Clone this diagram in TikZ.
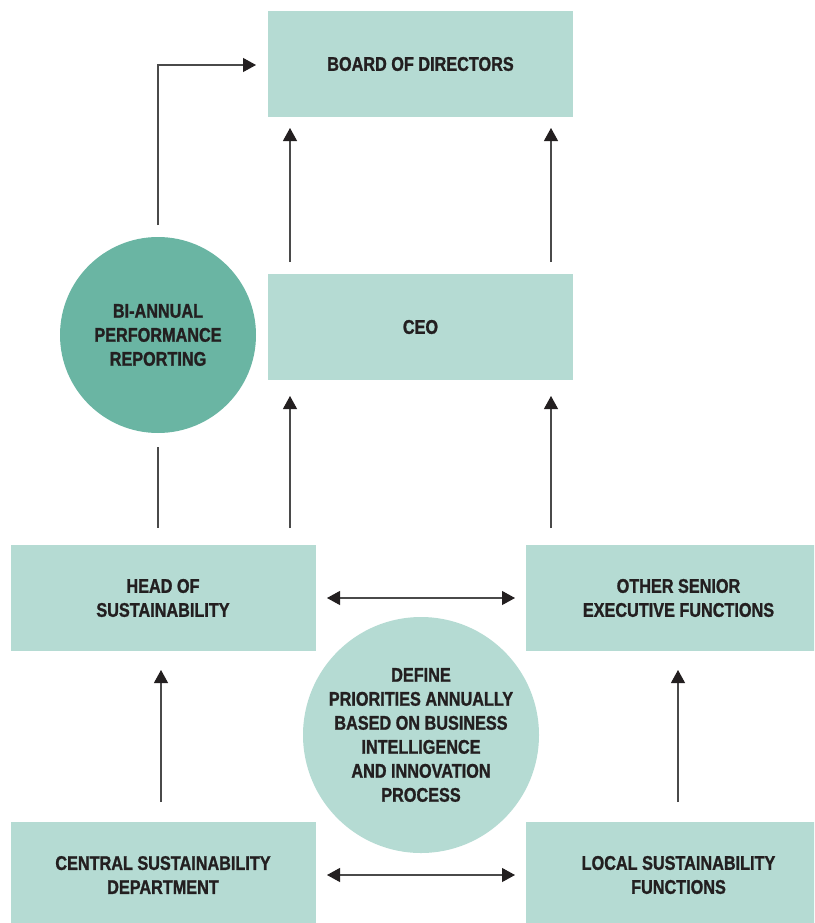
\documentclass[tikz,border=0pt]{standalone}
\usepackage{fontspec}
\setmainfont{Liberation Sans}[FakeStretch=0.82]
\newfontfamily\labelfont{Liberation Sans}[FakeStretch=0.82,BoldFeatures={FakeBold=1.2}]
\usetikzlibrary{arrows.meta}
\definecolor{boxc}{HTML}{B5DBD3}
\definecolor{darkc}{HTML}{6AB5A3}
\definecolor{txt}{HTML}{231F20}
\definecolor{linec}{HTML}{4A4A4A}
\tikzset{
  box/.style={fill=boxc, draw=none, minimum width=305pt, minimum height=106pt, inner sep=0pt,
    align=center, font=\labelfont\bfseries\fontsize{19.8}{24}\selectfont, text=txt},
  circ/.style={circle, draw=none, inner sep=0pt, align=center,
    font=\labelfont\bfseries\fontsize{19.8}{24}\selectfont, text=txt},
  conn/.style={draw=linec, line width=1.1pt},
  arr/.style={conn, -{Triangle[width=14pt,length=13pt,fill=txt,color=txt]}},
  darr/.style={conn, {Triangle[width=14pt,length=13pt,fill=txt,color=txt]}-{Triangle[width=14pt,length=13pt,fill=txt,color=txt]}},
}
\begin{document}
\begin{tikzpicture}[x=1pt,y=-1pt]
\useasboundingbox (0,0) rectangle (814,923);
\begin{scope}
\clip (0,0) rectangle (814,923);
\node[box] (board) at (420.5,64) {BOARD OF DIRECTORS};
\node[box] (ceo) at (420.5,327) {CEO};
\node[box] (head) at (163,598) {HEAD OF\\SUSTAINABILITY};
\node[box] (other) at (678.5,598) {OTHER SENIOR\\EXECUTIVE FUNCTIONS};
\node[box] (central) at (163,875) {CENTRAL SUSTAINABILITY\\DEPARTMENT};
\node[box] (local) at (678.5,875) {LOCAL SUSTAINABILITY\\FUNCTIONS};
\end{scope}
\node[circ, fill=darkc, minimum size=196pt] (bi) at (158,335) {BI-ANNUAL\\PERFORMANCE\\REPORTING};
\node[circ, fill=boxc, minimum size=236pt] (def) at (421,735) {DEFINE\\PRIORITIES ANNUALLY\\BASED ON BUSINESS\\INTELLIGENCE\\AND INNOVATION\\PROCESS};

% coordinates for gaps
\coordinate (biTop) at (158,225);
\coordinate (biCorner) at (158,65);
\coordinate (boardIn) at (256,65);
\coordinate (biBot) at (158,447);
\coordinate (headTopL) at (158,528);

\coordinate (c1a) at (290,262); \coordinate (c1b) at (290,128);
\coordinate (c2a) at (551,262); \coordinate (c2b) at (551,128);
\coordinate (h1a) at (290,528); \coordinate (h1b) at (290,396);
\coordinate (o1a) at (551,528); \coordinate (o1b) at (551,396);
\coordinate (ca) at (161,802); \coordinate (cb) at (161,670);
\coordinate (la) at (678,802); \coordinate (lb) at (678,670);
\coordinate (hl) at (327,598); \coordinate (hr) at (515,598);
\coordinate (bl) at (327,875); \coordinate (br) at (515,875);

\draw[arr] (biTop) -- (biCorner) -- (boardIn);
\draw[conn] (biBot) -- (headTopL);
\draw[arr] (c1a) -- (c1b);
\draw[arr] (c2a) -- (c2b);
\draw[arr] (h1a) -- (h1b);
\draw[arr] (o1a) -- (o1b);
\draw[arr] (ca) -- (cb);
\draw[arr] (la) -- (lb);
\draw[darr] (hl) -- (hr);
\draw[darr] (bl) -- (br);
\end{tikzpicture}
\end{document}
